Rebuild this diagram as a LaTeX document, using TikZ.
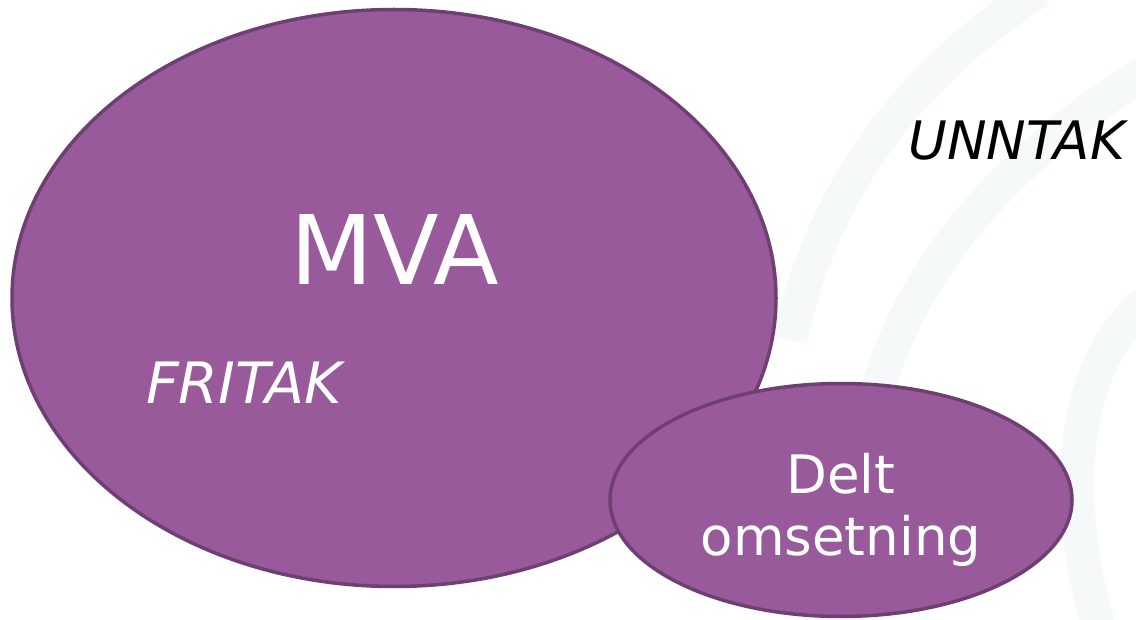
\documentclass[tikz,border=0pt]{standalone}
\usepackage{fontspec}
\setmainfont{DejaVu Sans}
\usetikzlibrary{shapes.geometric}
\definecolor{blobfill}{HTML}{985A9B}
\definecolor{blobline}{HTML}{6F3F73}
\definecolor{swirl}{HTML}{F6F9FA}
\tikzset{
  blob/.style={ellipse, draw=blobline, fill=blobfill, line width=3.5pt, inner sep=0pt},
  swirlline/.style={draw=swirl, line width=34pt},
}
\begin{document}
\begin{tikzpicture}[x=1pt,y=-1pt]
\useasboundingbox (0,0) rectangle (1136,620);
\fill[white] (0,0) rectangle (1136,620);
% faint background swirls
\draw[swirlline] (1040,-10) .. controls (900,80) and (820,200) .. (790,340);
\draw[swirlline] (1150,70) .. controls (1000,160) and (900,280) .. (870,420);
\draw[swirlline] (1150,300) .. controls (1070,360) and (1060,500) .. (1100,630);
% ellipses
\node[blob, minimum width=764pt, minimum height=577pt] (mva) at (394,298) {};
\node[blob, minimum width=462pt, minimum height=233pt] (delt) at (841,500) {};
% texts
\node[anchor=base, text=white, font=\fontsize{96}{100}\selectfont, inner sep=0pt] (mvatext) at (395,285) {MVA};
\node[anchor=base west, text=white, font=\fontsize{57}{60}\selectfont\itshape, inner sep=0pt] (fritak) at (146,403) {FRITAK};
\node[anchor=base west, text=black, font=\fontsize{53}{60}\selectfont\itshape, inner sep=0pt] (unntak) at (908,160) {UNNTAK};
\node[anchor=base, text=white, font=\fontsize{53}{62}\selectfont, inner sep=0pt] (delttext) at (841,493) {Delt};
\node[anchor=base, text=white, font=\fontsize{53}{62}\selectfont, inner sep=0pt] (omsetning) at (841,555) {omsetning};
\end{tikzpicture}
\end{document}
